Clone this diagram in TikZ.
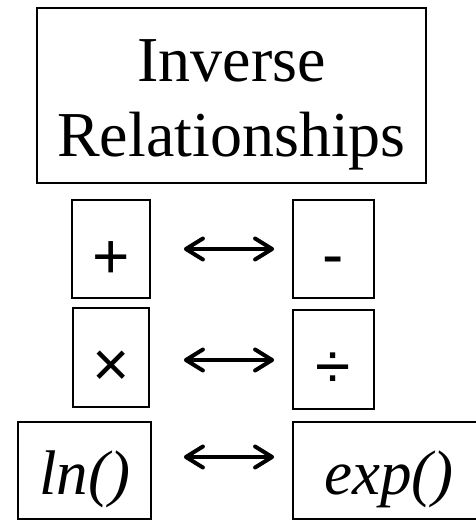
\documentclass[tikz,border=0pt]{standalone}
\usepackage{fontspec}
\setmainfont{Liberation Serif}
\newfontfamily\arialfont{Liberation Sans}
\usetikzlibrary{arrows.meta}
\begin{document}
\begin{tikzpicture}[x=1pt,y=1pt,
  box/.style={draw, line width=1.8pt, inner sep=0pt},
  sym/.style={box, font=\arialfont\fontsize{64}{70}\selectfont},
  fn/.style={box, font=\itshape\fontsize{63}{70}\selectfont},
  inv/.style={line width=4pt,
    {Straight Barb[length=17pt,width=21pt,round]}-{Straight Barb[length=17pt,width=21pt,round]}}
]
\useasboundingbox (0,0) rectangle (476,520);
\node[box, minimum width=389pt, minimum height=175pt, align=center,
  font=\fontsize{64}{75}\selectfont, text height=123pt, text depth=0pt]
  (title) at (231.5,424.5) {Inverse\\Relationships};
\node[sym, minimum width=78pt, minimum height=98pt, text height=60pt, text depth=0pt]
  (plus) at (111,271) {+};
\node[sym, minimum width=81pt, minimum height=98pt, text height=56pt, text depth=0pt]
  (minus) at (333.5,271) {-};
\node[sym, minimum width=76pt, minimum height=99pt, text height=59pt, text depth=0pt]
  (times) at (111,162.5) {×};
\node[sym, minimum width=81pt, minimum height=99pt, text height=59pt, text depth=0pt]
  (div) at (333.5,160.5) {÷};
\node[fn, minimum width=133pt, minimum height=97pt, text height=49pt, text depth=0pt]
  (ln) at (84.5,49.5) {ln()};
\node[fn, minimum width=192pt, minimum height=97pt, text height=49pt, text depth=0pt]
  (exp) at (389,49.5) {exp()};
\draw[inv, shorten <=33pt, shorten >=18pt] (plus.east) -- (minus.west);
\draw[inv, shorten <=34pt, shorten >=18pt] ([yshift=-2.5pt]times.east) -- ([yshift=-0.5pt]div.west);
\draw[inv, shorten <=32pt, shorten >=18pt] ([yshift=13.5pt]ln.east) -- ([yshift=13.5pt]exp.west);
\end{tikzpicture}
\end{document}
